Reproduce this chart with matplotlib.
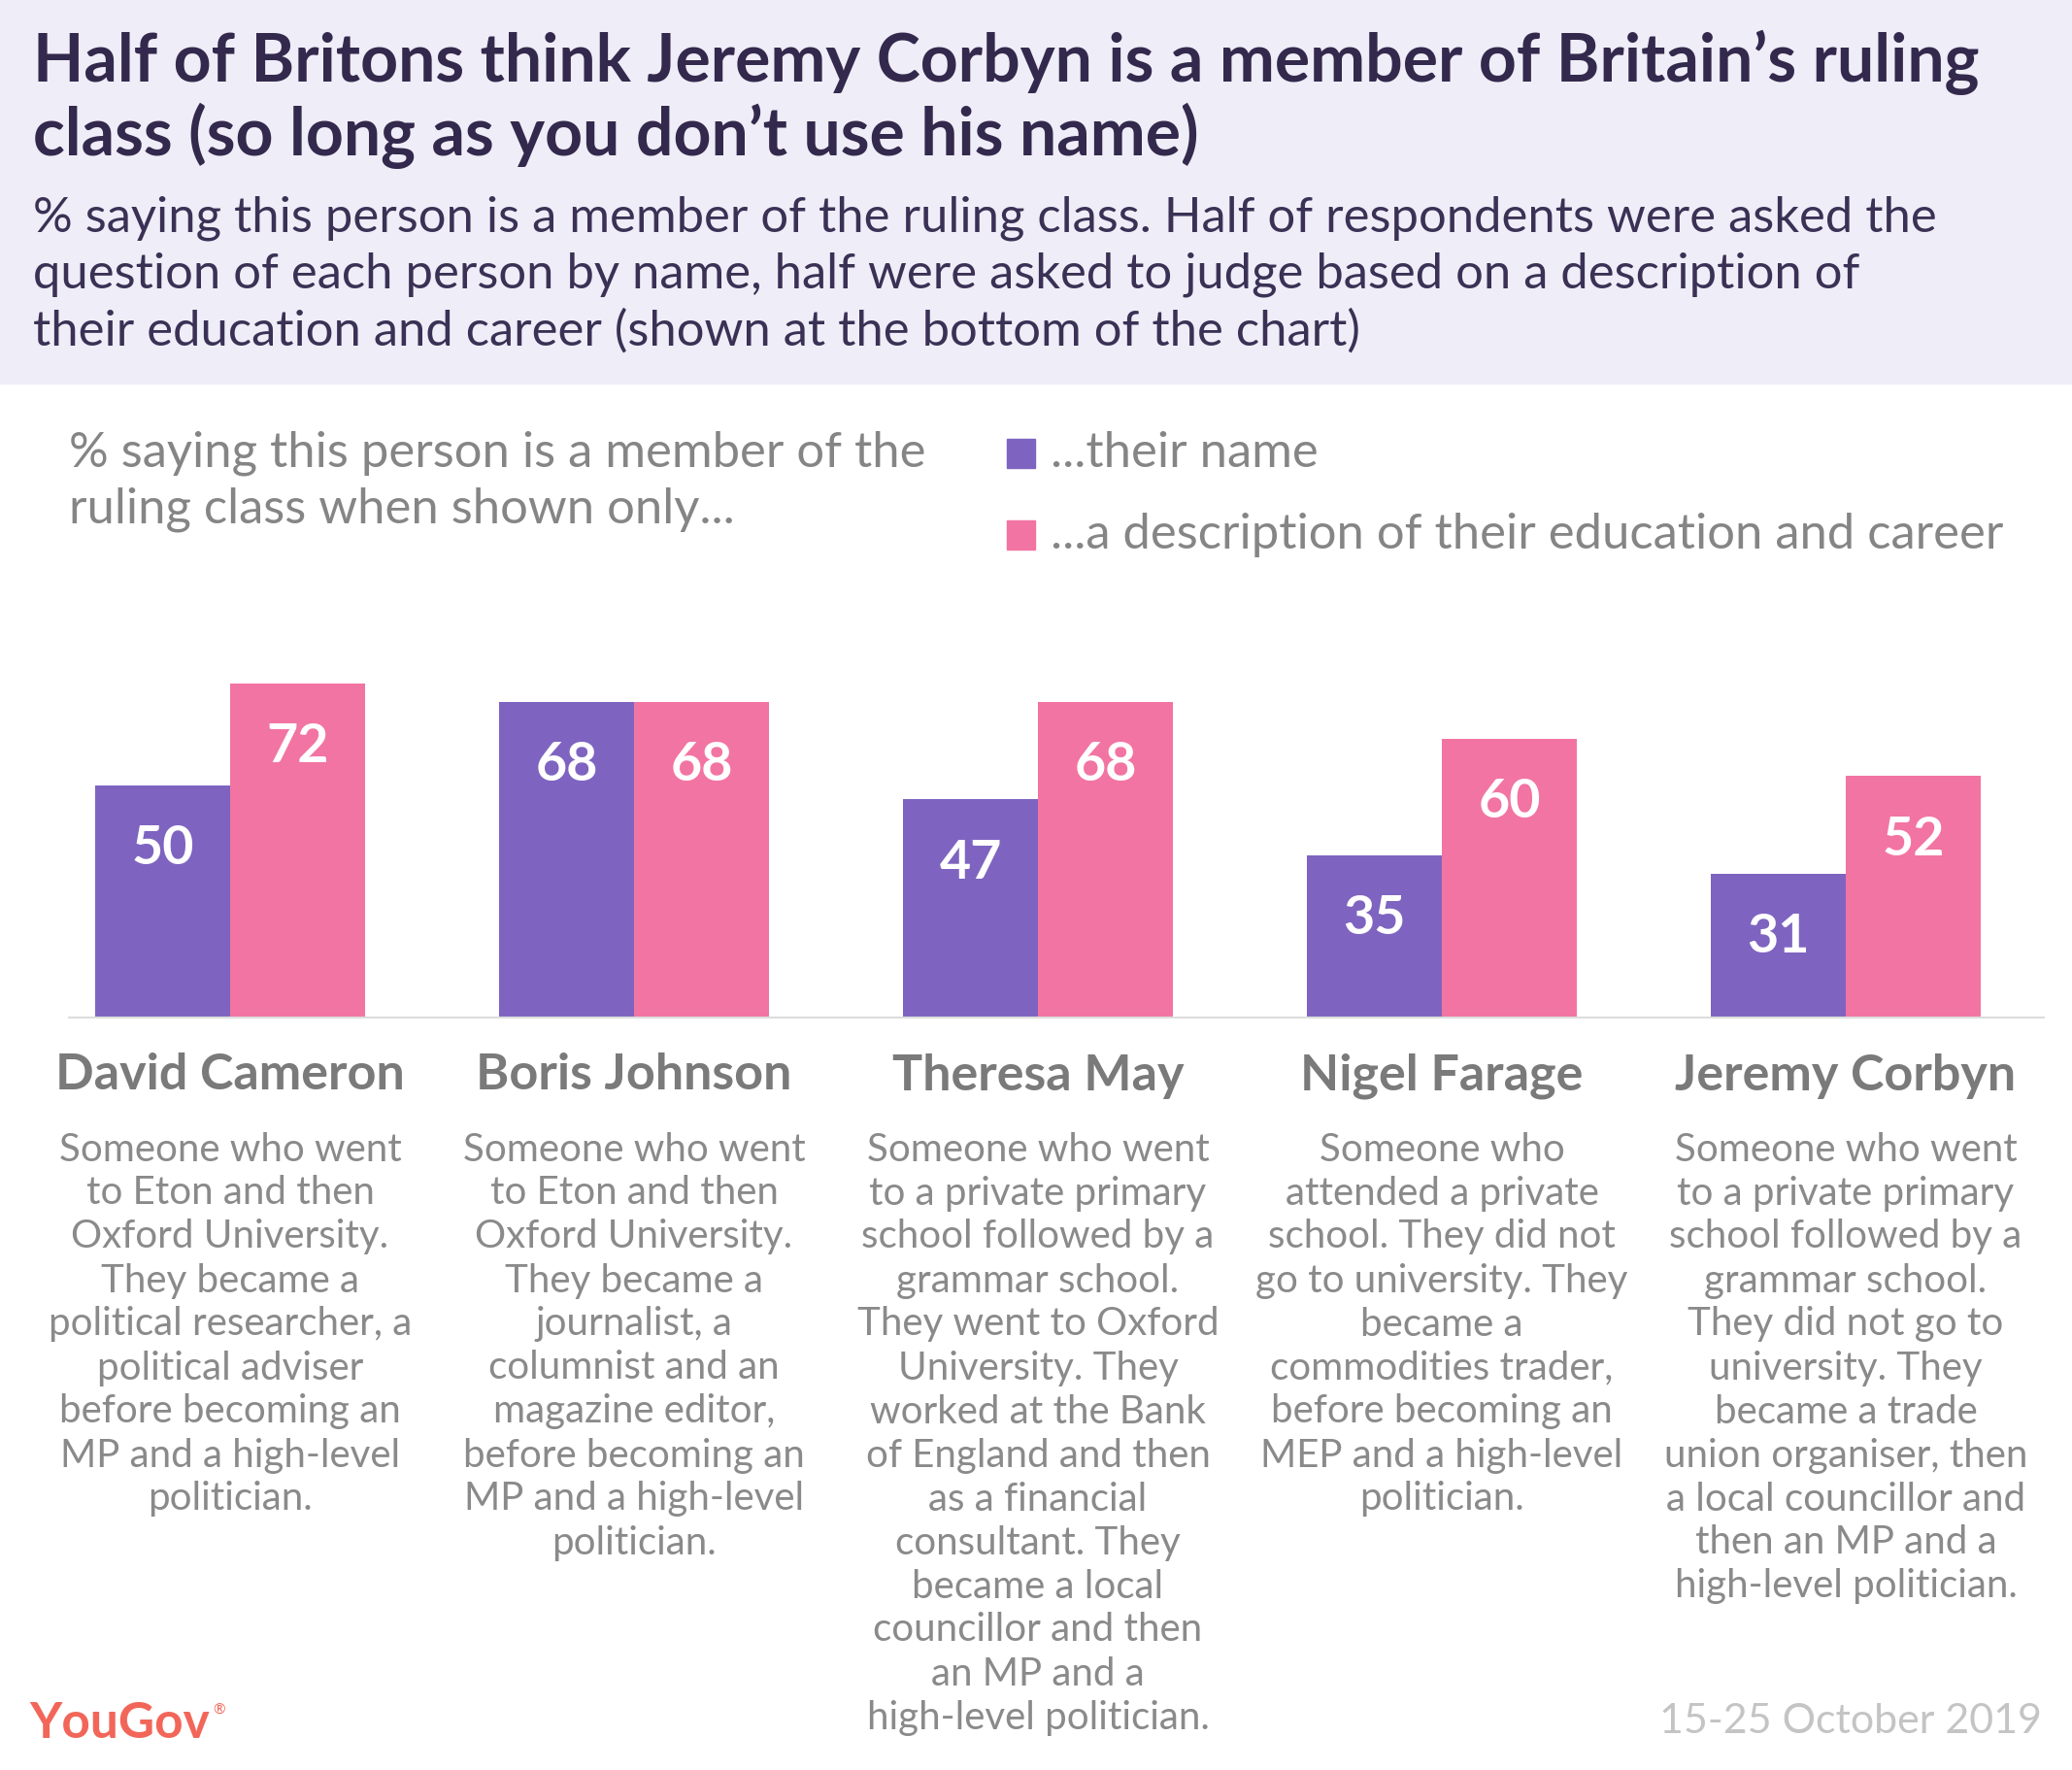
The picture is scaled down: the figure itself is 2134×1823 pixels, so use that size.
import matplotlib.pyplot as plt
from matplotlib.patches import Rectangle

# data
people = ["David Cameron", "Boris Johnson", "Theresa May", "Nigel Farage", "Jeremy Corbyn"]
by_name = [50, 68, 47, 35, 31]
by_description = [72, 68, 68, 60, 52]
descriptions = [
    ["Someone who went", "to Eton and then", "Oxford University.", "They became a",
     "political researcher, a", "political adviser", "before becoming an",
     "MP and a high-level", "politician."],
    ["Someone who went", "to Eton and then", "Oxford University.", "They became a",
     "journalist, a", "columnist and an", "magazine editor,", "before becoming an",
     "MP and a high-level", "politician."],
    ["Someone who went", "to a private primary", "school followed by a", "grammar school.",
     "They went to Oxford", "University. They", "worked at the Bank", "of England and then",
     "as a financial", "consultant. They", "became a local", "councillor and then",
     "an MP and a", "high-level politician."],
    ["Someone who", "attended a private", "school. They did not", "go to university. They",
     "became a", "commodities trader,", "before becoming an", "MEP and a high-level",
     "politician."],
    ["Someone who went", "to a private primary", "school followed by a", "grammar school.",
     "They did not go to", "university. They", "became a trade", "union organiser, then",
     "a local councillor and", "then an MP and a", "high-level politician."],
]
series_labels = ["...their name", "...a description of their education and career"]

PURPLE = "#7e64c0"
PINK = "#f274a2"
TITLE_C = "#33294d"
GREY = "#858585"

plt.rcParams["font.family"] = ["Lato", "DejaVu Sans"]

W, H = 2134, 1823
fig = plt.figure(figsize=(W / 100, H / 100), dpi=100)


def fx(px):
    return px / W


def fy(py):
    return 1 - py / H


# header band
fig.patches.append(Rectangle((0, fy(395)), 1, 395 / H, transform=fig.transFigure,
                             color="#efedf7", zorder=0))

fig.text(fx(34), fy(64), "Half of Britons think Jeremy Corbyn is a member of Britain’s ruling",
         fontsize=49, fontweight="bold", color=TITLE_C, va="center")
fig.text(fx(34), fy(140), "class (so long as you don’t use his name)",
         fontsize=49, fontweight="bold", color=TITLE_C, va="center")
subtitle = ["% saying this person is a member of the ruling class. Half of respondents were asked the",
            "question of each person by name, half were asked to judge based on a description of",
            "their education and career (shown at the bottom of the chart)"]
for i, line in enumerate(subtitle):
    fig.text(fx(34), fy(225 + i * 58), line, fontsize=36.5, color="#3a3155", va="center")

# legend
fig.text(fx(71), fy(467), "% saying this person is a member of the", fontsize=36.5,
         color=GREY, va="center")
fig.text(fx(71), fy(525), "ruling class when shown only...", fontsize=36.5,
         color=GREY, va="center")
for i, (lab, col) in enumerate(zip(series_labels, [PURPLE, PINK])):
    yc = 467 + i * 84
    fig.patches.append(Rectangle((fx(1037), fy(yc + 15)), 29 / W, 30 / H,
                                 transform=fig.transFigure, color=col))
    fig.text(fx(1082), fy(yc), lab, fontsize=36.5, color=GREY, va="center")

# bars
ax = fig.add_axes([0, fy(1048), 1, 382.4 / H])
x0, step = 237, 416
ax.set_xlim(-x0 / step, (W - x0) / step)
ax.set_ylim(0, 80)
ax.axis("off")
xs = list(range(len(people)))
bw = 139 / step
ax.bar([x - bw / 2 for x in xs], by_name, width=bw, color=PURPLE)
ax.bar([x + bw / 2 for x in xs], by_description, width=bw, color=PINK)
ax.plot([(71 - x0) / step, (2105 - x0) / step], [0, 0], color="#dddddd", lw=1.5,
        clip_on=False)
for x, a, b in zip(xs, by_name, by_description):
    for xp, v in [(x - bw / 2, a), (x + bw / 2, b)]:
        ax.annotate(str(v), (xp, v), xytext=(0, -47), textcoords="offset points",
                    ha="center", va="center", color="white", fontsize=40, fontweight="bold")

# names and descriptions
for x, name, desc in zip(xs, people, descriptions):
    px = x0 + x * step
    fig.text(fx(px), fy(1108), name, ha="center", va="center", fontsize=37.5,
             fontweight="bold", color="#7a7a7a")
    for j, line in enumerate(desc):
        fig.text(fx(px), fy(1184 + j * 45), line, ha="center", va="center", fontsize=29,
                 color="#8a8a8a")

# footer
fig.text(fx(30), fy(1776), "YouGov", fontsize=37, fontweight="bold", color="#f26659",
         va="center")
fig.text(fx(219), fy(1762), "®", fontsize=11, color="#f26659", va="center")
fig.text(fx(2103), fy(1773), "15-25 October 2019", fontsize=31,
         color="#c4c4c4", ha="right", va="center")

fig.savefig("out.png", dpi=100)
